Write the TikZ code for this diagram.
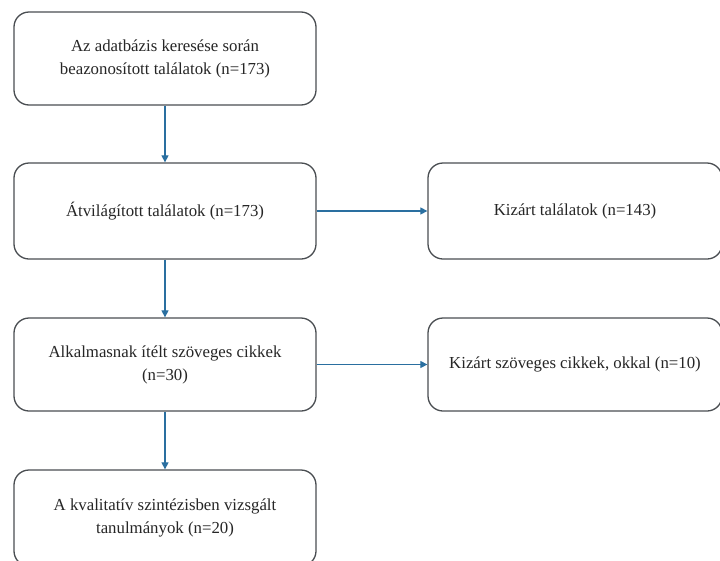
\documentclass[tikz,border=0pt]{standalone}
\usepackage{fontspec}
\setmainfont{Liberation Serif}
\usetikzlibrary{arrows.meta}
\definecolor{boxline}{HTML}{4A4E52}
\definecolor{arrowblue}{HTML}{2A6FA0}
\begin{document}
\begin{tikzpicture}[x=1pt,y=-1pt,
  flowbox/.style={draw=boxline,line width=1.3pt,rounded corners=15pt,fill=white,
    minimum width=302pt,inner sep=0pt,align=center,text=black!85,
    font=\fontsize{16.8}{23}\selectfont},
  sidebox/.style={flowbox,minimum width=294pt},
  flowarrow/.style={draw=arrowblue,line width=1.2pt,-{Triangle[length=7pt,width=7pt]}}]
\useasboundingbox (0,0) rectangle (720,560);
\fill[white] (0,0) rectangle (720,560);
\node[flowbox,minimum height=93pt] (b1) at (165,58.5) {Az adatbázis keresése során\\beazonosított találatok (n=173)};
\node[flowbox,minimum height=96pt] (b2) at (165,211) {Átvilágított találatok (n=173)};
\node[flowbox,minimum height=93pt] (b3) at (165,364.5) {Alkalmasnak ítélt szöveges cikkek\\(n=30)};
\node[flowbox,minimum height=96pt] (b4) at (165,518) {A kvalitatív szintézisben vizsgált\\tanulmányok (n=20)};
\node[sidebox,minimum height=96pt] (r1) at (575,211) {Kizárt találatok (n=143)};
\node[sidebox,minimum height=93pt] (r2) at (575,364.5) {Kizárt szöveges cikkek, okkal (n=10)};
\draw[flowarrow] (b1) -- (b2);
\draw[flowarrow] (b2) -- (b3);
\draw[flowarrow] (b3) -- (b4);
\draw[flowarrow] (b2) -- (r1);
\draw[flowarrow] (b3) -- (r2);
\end{tikzpicture}
\end{document}
